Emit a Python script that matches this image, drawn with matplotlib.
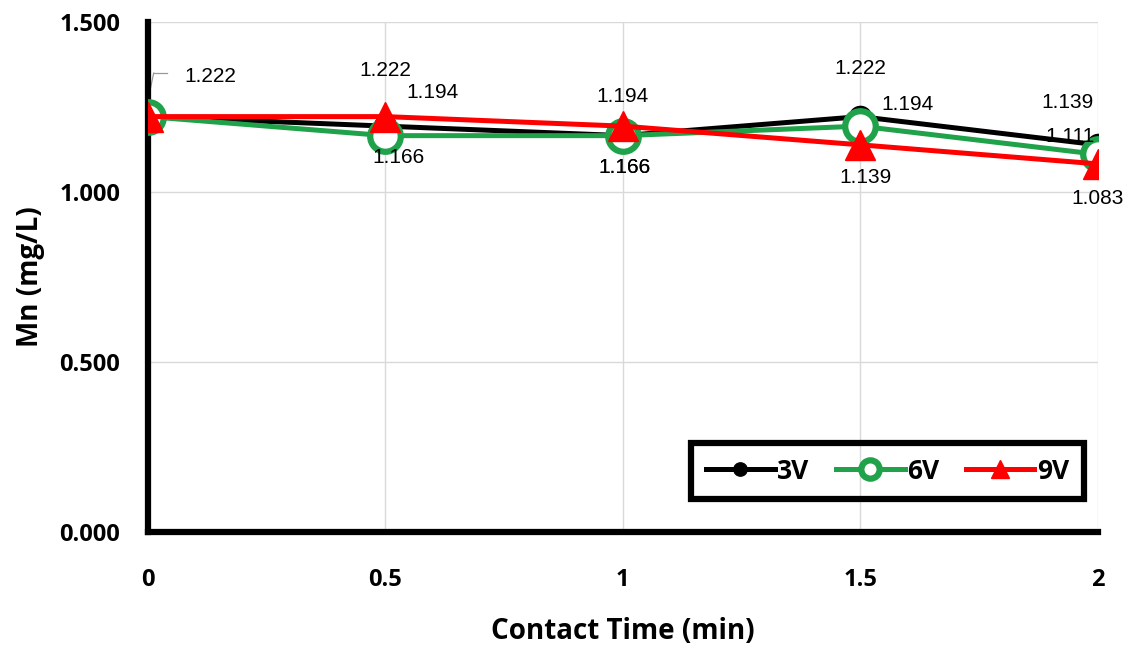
import matplotlib.pyplot as plt
from matplotlib.ticker import FormatStrFormatter

time_min = [0, 0.5, 1, 1.5, 2]
mn_3v = [1.222, 1.194, 1.166, 1.222, 1.139]
mn_6v = [1.222, 1.166, 1.166, 1.194, 1.111]
mn_9v = [1.222, 1.222, 1.194, 1.139, 1.083]

# label offsets (pixels) for each point; None means no label drawn
off_3v = [None, (47, 34), (2, -32), (0, 48), (-30, 42)]
off_6v = [(62, 40), (13, -22), (2, -32), (47, 22), (-28, 18)]
off_9v = [None, (0, 46), (0, 30), (5, -33), (0, -35)]

fig = plt.figure(figsize=(11.27, 6.49), dpi=100)
ax = fig.add_axes([0.1313, 0.180, 0.8427, 0.786])

ax.plot(time_min, mn_3v, color='black', lw=3.6, marker='o', ms=16,
        mfc='black', mec='black', label='3V', zorder=3)
ax.plot(time_min, mn_6v, color='#1fa24a', lw=3.6, marker='o', ms=22,
        mfc='white', mec='#1fa24a', mew=4.5, label='6V', zorder=4)
ax.plot(time_min, mn_9v, color='#ff0000', lw=3.6, marker='^', ms=22,
        mfc='#ff0000', mec='#ff0000', label='9V', zorder=5)

for vals, offs in [(mn_3v, off_3v), (mn_6v, off_6v), (mn_9v, off_9v)]:
    for x, v, o in zip(time_min, vals, offs):
        if o is None:
            continue
        ax.annotate(f'{v:.3f}', (x, v), xytext=o, textcoords='offset pixels',
                    ha='center', va='center', fontsize=15,
                    family='Liberation Sans', zorder=6)

# small leader line for the first label
ax.plot([0.012, 0.04], [1.35, 1.35], color='#999999', lw=0.9, zorder=2)
ax.plot([0.0, 0.012], [1.27, 1.35], color='#999999', lw=0.9, zorder=2)

ax.set_xlim(0, 2)
ax.set_ylim(0, 1.5)
ax.set_xticks(time_min)
ax.set_xticklabels(['0', '0.5', '1', '1.5', '2'])
ax.set_yticks([0, 0.5, 1.0, 1.5])
ax.yaxis.set_major_formatter(FormatStrFormatter('%.3f'))
ax.grid(True, color='#d9d9d9', lw=1)
ax.set_axisbelow(True)

for s in ['top', 'right']:
    ax.spines[s].set_visible(False)
for s in ['left', 'bottom']:
    ax.spines[s].set_linewidth(4.5)
ax.tick_params(axis='x', length=0, pad=26)
ax.tick_params(axis='y', length=0, pad=20)
for lab in ax.get_xticklabels() + ax.get_yticklabels():
    lab.set_fontsize(17)
    lab.set_fontweight('bold')
    lab.set_family('Open Sans')

ax.set_xlabel('Contact Time (min)', fontsize=20, fontweight='bold',
              family='Open Sans', labelpad=18)
ax.set_ylabel('Mn (mg/L)', fontsize=20, fontweight='bold',
              family='Open Sans', labelpad=10)

leg = ax.legend(loc='lower right', ncol=3, frameon=True, fancybox=False,
                prop={'family': 'Open Sans', 'weight': 'bold', 'size': 19},
                handlelength=2.6, columnspacing=1.0, handletextpad=0.1,
                markerscale=0.6, borderpad=0.55, bbox_to_anchor=(0.999, 0.039))
frame = leg.get_frame()
frame.set_facecolor('none')
frame.set_edgecolor('black')
frame.set_alpha(None)
frame.set_linewidth(4.5)

fig.savefig('out.png', dpi=100)
